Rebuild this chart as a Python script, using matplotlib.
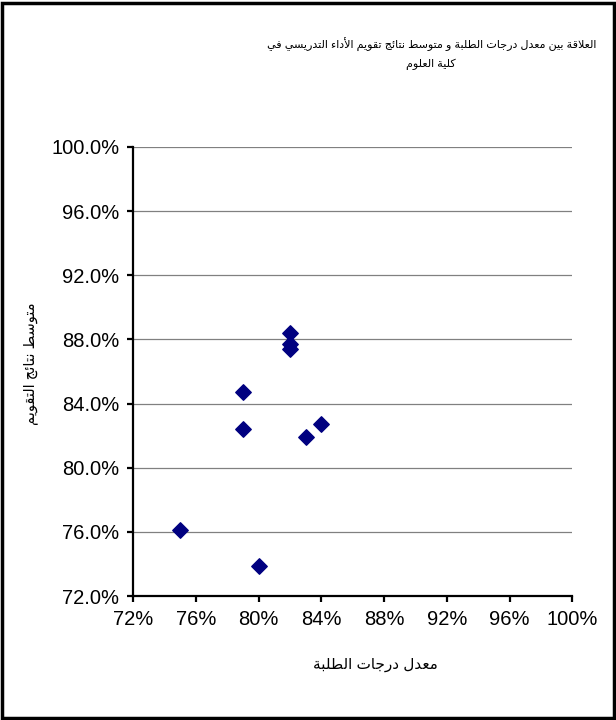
from matplotlib import pyplot as plt
from matplotlib.ticker import PercentFormatter, MultipleLocator
from matplotlib.patches import Rectangle

# data (percent)
student_avg = [75, 79, 79, 80, 82, 82, 82, 83, 84]
eval_avg = [76.1, 84.7, 82.4, 73.9, 88.4, 87.7, 87.4, 81.9, 82.7]

title_lines = ["العلاقة بين معدل درجات الطلبة و متوسط نتائج تقويم الأداء التدريسي في",
               "كلية العلوم"]
xlabel_text = "معدل درجات الطلبة"
ylabel_text = "متوسط نتائج التقويم"

# minimal arabic shaping: matplotlib does not join letters or lay out rtl text
FORMS = {
    'ء': (0xFE80, 1), 'آ': (0xFE81, 2), 'أ': (0xFE83, 2), 'ؤ': (0xFE85, 2),
    'إ': (0xFE87, 2), 'ئ': (0xFE89, 4), 'ا': (0xFE8D, 2), 'ب': (0xFE8F, 4),
    'ة': (0xFE93, 2), 'ت': (0xFE95, 4), 'ث': (0xFE99, 4), 'ج': (0xFE9D, 4),
    'ح': (0xFEA1, 4), 'خ': (0xFEA5, 4), 'د': (0xFEA9, 2), 'ذ': (0xFEAB, 2),
    'ر': (0xFEAD, 2), 'ز': (0xFEAF, 2), 'س': (0xFEB1, 4), 'ش': (0xFEB5, 4),
    'ص': (0xFEB9, 4), 'ض': (0xFEBD, 4), 'ط': (0xFEC1, 4), 'ظ': (0xFEC5, 4),
    'ع': (0xFEC9, 4), 'غ': (0xFECD, 4), 'ف': (0xFED1, 4), 'ق': (0xFED5, 4),
    'ك': (0xFED9, 4), 'ل': (0xFEDD, 4), 'م': (0xFEE1, 4), 'ن': (0xFEE5, 4),
    'ه': (0xFEE9, 4), 'و': (0xFEED, 2), 'ى': (0xFEEF, 2), 'ي': (0xFEF1, 4),
}
LAM_ALEF = {'آ': 0xFEF5, 'أ': 0xFEF7, 'إ': 0xFEF9, 'ا': 0xFEFB}


def shape(text: str) -> str:
    tokens = []
    i = 0
    while i < len(text):
        c = text[i]
        if c == 'ل' and i + 1 < len(text) and text[i + 1] in LAM_ALEF:
            tokens.append(('LA', LAM_ALEF[text[i + 1]], 2))
            i += 2
            continue
        if c in FORMS:
            tokens.append(('L', FORMS[c][0], FORMS[c][1]))
        else:
            tokens.append(('X', c, 0))
        i += 1

    out = []
    for k, (kind, base, n) in enumerate(tokens):
        if kind == 'X':
            out.append(base)
            continue
        prev = tokens[k - 1] if k > 0 else None
        nxt = tokens[k + 1] if k + 1 < len(tokens) else None
        joins_prev = prev is not None and prev[0] == 'L' and prev[2] == 4
        joins_next = n == 4 and nxt is not None and nxt[0] != 'X' and nxt[2] >= 2
        if n == 1:
            idx = 0
        elif n == 2:
            idx = 1 if joins_prev else 0
        else:
            idx = {(False, False): 0, (True, False): 1,
                   (False, True): 2, (True, True): 3}[(joins_prev, joins_next)]
        out.append(chr(base + idx))
    return ''.join(out)[::-1]


plt.rcParams['font.family'] = ['Liberation Sans', 'DejaVu Sans']

fig = plt.figure(figsize=(6.16, 7.2), dpi=100)
ax = fig.add_axes([0.216, 0.172, 0.713, 0.624])

ax.scatter(student_avg, eval_avg, marker='D', s=62, color='#000080',
           edgecolors='#000080', zorder=3, clip_on=False)

ax.set_xlim(72, 100)
ax.set_ylim(72, 100)
ax.xaxis.set_major_locator(MultipleLocator(4))
ax.yaxis.set_major_locator(MultipleLocator(4))
ax.xaxis.set_major_formatter(PercentFormatter(decimals=0))
ax.yaxis.set_major_formatter(PercentFormatter(decimals=1))

ax.grid(axis='y', color='#808080', lw=0.9)
ax.set_axisbelow(True)
for side in ('top', 'right'):
    ax.spines[side].set_visible(False)
for side in ('left', 'bottom'):
    ax.spines[side].set_linewidth(1.6)
    ax.spines[side].set_color('black')
ax.tick_params(direction='out', length=4, width=1.6, labelsize=14.5, pad=6)

fig.text(0.70, 0.937, shape(title_lines[0]), ha='center', va='center', fontsize=8)
fig.text(0.70, 0.910, shape(title_lines[1]), ha='center', va='center', fontsize=8)
fig.text(0.61, 0.076, shape(xlabel_text), ha='center', va='center', fontsize=11)
fig.text(0.05, 0.495, shape(ylabel_text), ha='center', va='center',
         rotation=90, fontsize=10.5)

# border round the whole chart
fig.patches.append(Rectangle((0.004, 0.003), 0.993, 0.993, transform=fig.transFigure,
                             fill=False, edgecolor='black', lw=2.5))

fig.savefig('out.png', dpi=100)
